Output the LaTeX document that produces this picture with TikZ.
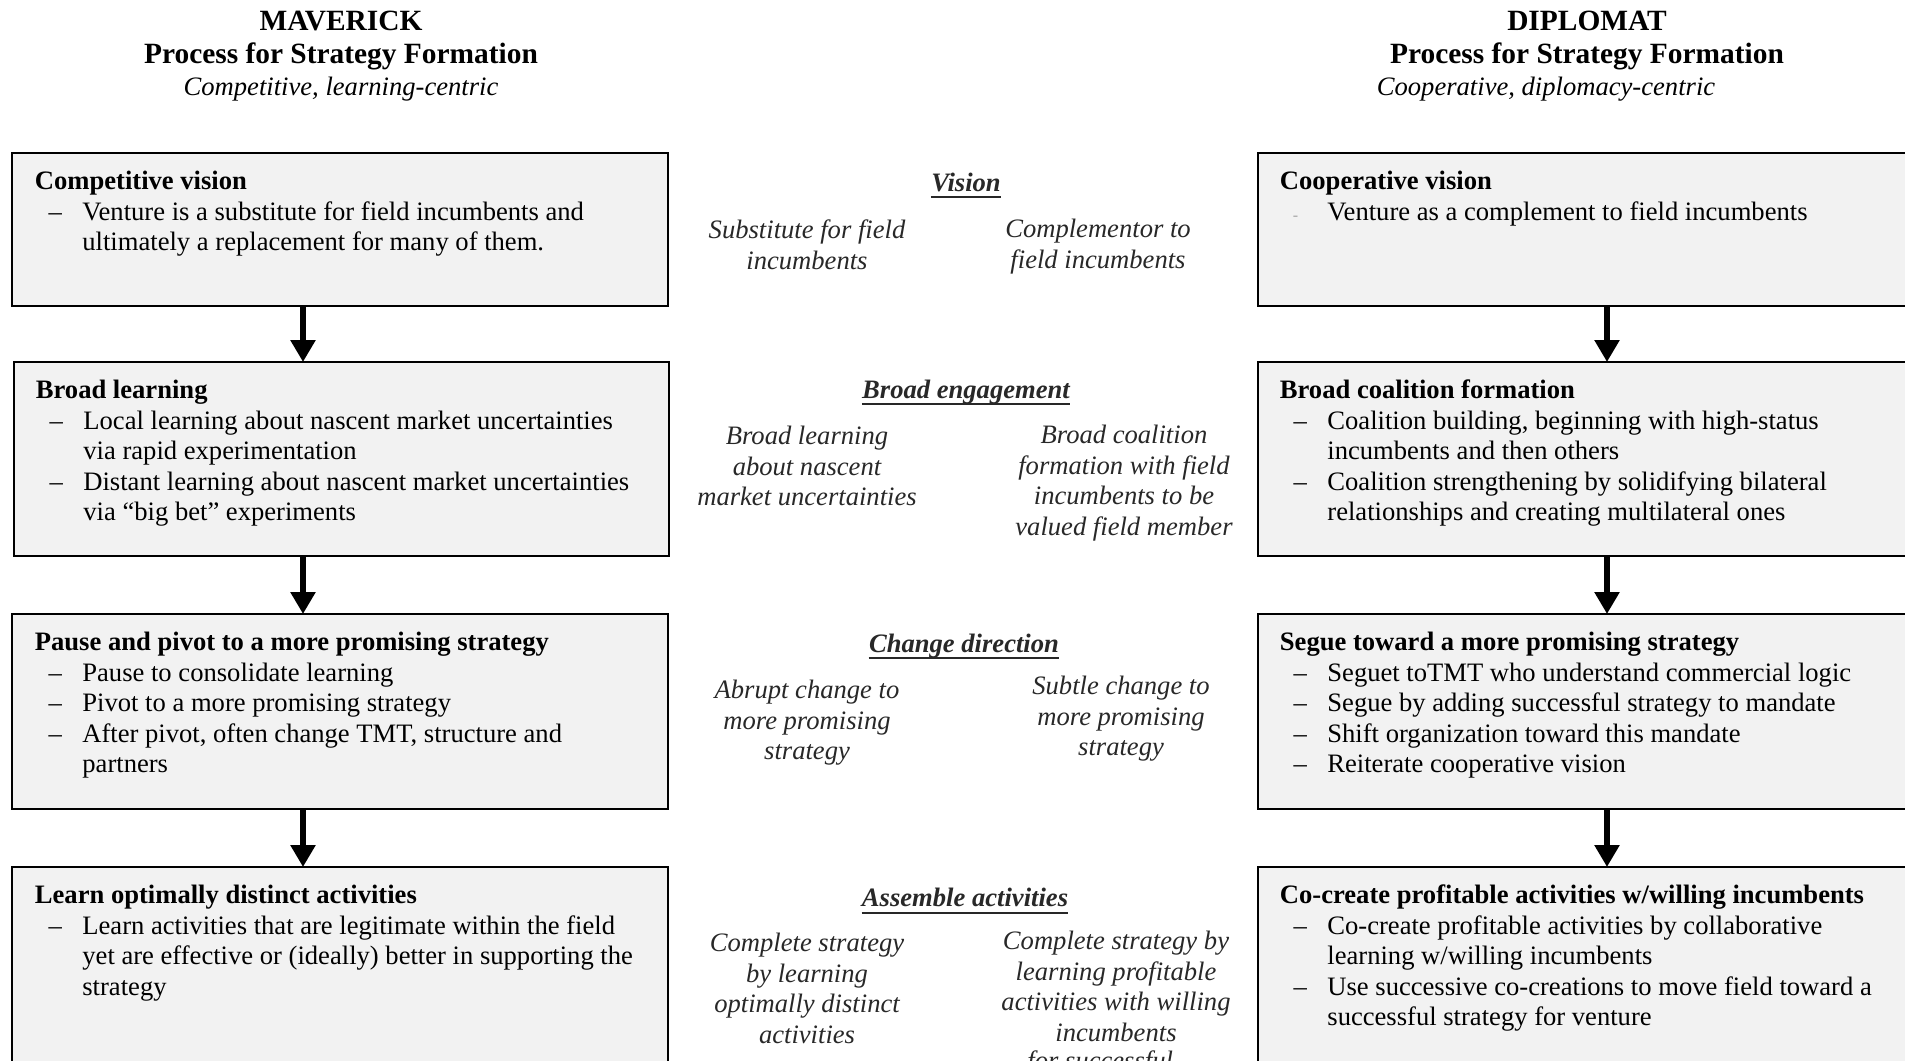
\documentclass[tikz,border=0pt]{standalone}
\usepackage{fontspec}
\setmainfont{Liberation Serif}
\usetikzlibrary{arrows.meta,fit}
\newcommand\dashitem[1]{\makebox[23.75pt][l]{\hspace{6.8pt}–}#1}
\newcommand\smalldashitem[1]{\makebox[23.75pt][l]{\hspace{6.5pt}{\color{gray!70}\fontsize{8}{8}\selectfont -}}#1}
\newcommand\contline[1]{\hspace{23.75pt}#1}
\definecolor{boxgray}{RGB}{242,242,242}
\definecolor{midtext}{RGB}{40,40,40}
\begin{document}
\begin{tikzpicture}[x=0.5pt,y=-0.5pt,
  box/.style={draw=black, line width=1.3pt, fill=boxgray, inner sep=0pt, outer sep=0pt},
  body/.style={anchor=base west, inner sep=0pt, font=\fontsize{13.3}{15.3}\selectfont},
  ttl/.style={anchor=base, inner sep=0pt, font=\bfseries\fontsize{14.7}{15}\selectfont},
  subt/.style={anchor=base, inner sep=0pt, font=\itshape\fontsize{13.3}{15}\selectfont},
  mhead/.style={anchor=base, inner sep=0pt, font=\bfseries\itshape\fontsize{13.3}{15.3}\selectfont, text=midtext},
  mtext/.style={anchor=base, inner sep=0pt, font=\itshape\fontsize{13.3}{15.3}\selectfont, text=midtext},
  arr/.style={line width=3.2pt, -{Triangle[width=12pt,length=11pt]}},
  uline/.style={line width=1pt, draw=midtext}
]
\useasboundingbox (0,0) rectangle (1905,1060);
\clip (0,0) rectangle (1905,1060);
\fill[white] (0,0) rectangle (1905,1060);

% titles
\node[ttl] (tM1) at (341,31) {MAVERICK};
\node[ttl] (tM2) at (341,63.5) {Process for Strategy Formation};
\node[subt] (tM3) at (341,95) {Competitive, learning-centric};
\node[ttl] (tD1) at (1587,31) {DIPLOMAT};
\node[ttl] (tD2) at (1587,63.5) {Process for Strategy Formation};
\node[subt] (tD3) at (1546,95) {Cooperative, diplomacy-centric};

% boxes
\coordinate (l1a) at (12,153);  \coordinate (l1b) at (668,306);
\coordinate (l2a) at (14,362);  \coordinate (l2b) at (669,556);
\coordinate (l3a) at (12,614);  \coordinate (l3b) at (668,809);
\coordinate (l4a) at (12,867);  \coordinate (l4b) at (668,1120);
\coordinate (r1a) at (1258,153); \coordinate (r1b) at (1960,306);
\coordinate (r2a) at (1258,362); \coordinate (r2b) at (1960,556);
\coordinate (r3a) at (1258,614); \coordinate (r3b) at (1960,809);
\coordinate (r4a) at (1258,867); \coordinate (r4b) at (1960,1120);
\node[box, fit=(l1a)(l1b)] (L1) {};
\node[box, fit=(l2a)(l2b)] (L2) {};
\node[box, fit=(l3a)(l3b)] (L3) {};
\node[box, fit=(l4a)(l4b)] (L4) {};
\node[box, fit=(r1a)(r1b)] (R1) {};
\node[box, fit=(r2a)(r2b)] (R2) {};
\node[box, fit=(r3a)(r3b)] (R3) {};
\node[box, fit=(r4a)(r4b)] (R4) {};

% box texts left
\node[body] (L1t) at (34.5,189.5) {\begin{tabular}[t]{@{}l@{}}\textbf{Competitive vision}\\
 \dashitem{Venture is a substitute for field incumbents and}\\
 \contline{ultimately a replacement for many of them.}\end{tabular}};
\node[body] (L2t) at (35.5,398.5) {\begin{tabular}[t]{@{}l@{}}\textbf{Broad learning}\\
 \dashitem{Local learning about nascent market uncertainties}\\
 \contline{via rapid experimentation}\\
 \dashitem{Distant learning about nascent market uncertainties}\\
 \contline{via “big bet” experiments}\end{tabular}};
\node[body] (L3t) at (34.5,650.5) {\begin{tabular}[t]{@{}l@{}}\textbf{Pause and pivot to a more promising strategy}\\
 \dashitem{Pause to consolidate learning}\\
 \dashitem{Pivot to a more promising strategy}\\
 \dashitem{After pivot, often change TMT, structure and}\\
 \contline{partners}\end{tabular}};
\node[body] (L4t) at (34.5,903.5) {\begin{tabular}[t]{@{}l@{}}\textbf{Learn optimally distinct activities}\\
 \dashitem{Learn activities that are legitimate within the field}\\
 \contline{yet are effective or (ideally) better in supporting the}\\
 \contline{strategy}\end{tabular}};

% box texts right
\node[body] (R1t) at (1279.5,189.5) {\begin{tabular}[t]{@{}l@{}}\textbf{Cooperative vision}\\
 \smalldashitem{Venture as a complement to field incumbents}\end{tabular}};
\node[body] (R2t) at (1279.5,398.5) {\begin{tabular}[t]{@{}l@{}}\textbf{Broad coalition formation}\\
 \dashitem{Coalition building, beginning with high-status}\\
 \contline{incumbents and then others}\\
 \dashitem{Coalition strengthening by solidifying bilateral}\\
 \contline{relationships and creating multilateral ones}\end{tabular}};
\node[body] (R3t) at (1279.5,650.5) {\begin{tabular}[t]{@{}l@{}}\textbf{Segue toward a more promising strategy}\\
 \dashitem{Seguet toTMT who understand commercial logic}\\
 \dashitem{Segue by adding successful strategy to mandate}\\
 \dashitem{Shift organization toward this mandate}\\
 \dashitem{Reiterate cooperative vision}\end{tabular}};
\node[body] (R4t) at (1279.5,903.5) {\begin{tabular}[t]{@{}l@{}}\textbf{Co-create profitable activities w/willing incumbents}\\
 \dashitem{Co-create profitable activities by collaborative}\\
 \contline{learning w/willing incumbents}\\
 \dashitem{Use successive co-creations to move field toward a}\\
 \contline{successful strategy for venture}\end{tabular}};

% arrows
\coordinate (aL) at (303,0);
\coordinate (aR) at (1607,0);
\draw[arr] (L1.south -| aL) -- (L2.north -| aL);
\draw[arr] (L2.south -| aL) -- (L3.north -| aL);
\draw[arr] (L3.south -| aL) -- (L4.north -| aL);
\draw[arr] (R1.south -| aR) -- (R2.north -| aR);
\draw[arr] (R2.south -| aR) -- (R3.north -| aR);
\draw[arr] (R3.south -| aR) -- (R4.north -| aR);

% middle column
\node[mhead] (m1h) at (966,191) {Vision};
\draw[uline] ([yshift=-3pt]m1h.base west) -- ([yshift=-3pt]m1h.base east);
\node[mtext] (m1a) at (807,238.5) {\begin{tabular}[t]{@{}c@{}}Substitute for field\\ incumbents\end{tabular}};
\node[mtext] (m1b) at (1098,237.5) {\begin{tabular}[t]{@{}c@{}}Complementor to\\ field incumbents\end{tabular}};

\node[mhead] (m2h) at (966,398) {Broad engagement};
\draw[uline] ([yshift=-3pt]m2h.base west) -- ([yshift=-3pt]m2h.base east);
\node[mtext] (m2a) at (807,444.5) {\begin{tabular}[t]{@{}c@{}}Broad learning\\ about nascent\\ market uncertainties\end{tabular}};
\node[mtext] (m2b) at (1124,443.5) {\begin{tabular}[t]{@{}c@{}}Broad coalition\\ formation with field\\ incumbents to be\\ valued field member\end{tabular}};

\node[mhead] (m3h) at (964,652) {Change direction};
\draw[uline] ([yshift=-3pt]m3h.base west) -- ([yshift=-3pt]m3h.base east);
\node[mtext] (m3a) at (807,698.5) {\begin{tabular}[t]{@{}c@{}}Abrupt change to\\ more promising\\ strategy\end{tabular}};
\node[mtext] (m3b) at (1121,694.5) {\begin{tabular}[t]{@{}c@{}}Subtle change to\\ more promising\\ strategy\end{tabular}};

\node[mhead] (m4h) at (965,906.5) {Assemble activities};
\draw[uline] ([yshift=-3pt]m4h.base west) -- ([yshift=-3pt]m4h.base east);
\node[mtext] (m4a) at (807,951.5) {\begin{tabular}[t]{@{}c@{}}Complete strategy\\ by learning\\ optimally distinct\\ activities\end{tabular}};
\node[mtext] (m4b) at (1116,949.5) {\begin{tabular}[t]{@{}c@{}}Complete strategy by\\ learning profitable\\ activities with willing\\ incumbents\end{tabular}};
\node[mtext, anchor=base west] (m4c) at (1027,1069) {for successful};
\end{tikzpicture}
\end{document}
